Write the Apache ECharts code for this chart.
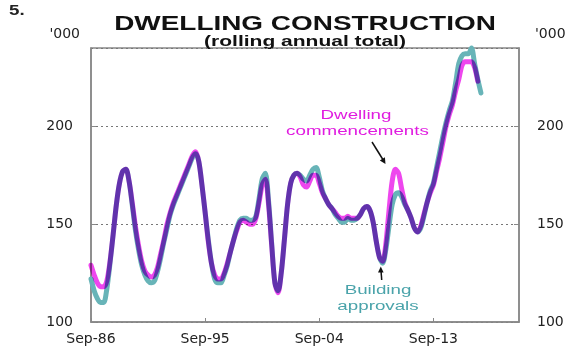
<!DOCTYPE html>
<html>
<head>
<meta charset="utf-8">
<script src="https://cdn.jsdelivr.net/npm/echarts@6/dist/echarts.min.js"></script>
<style>html,body{margin:0;padding:0;background:#fff}#c{width:580px;height:352px}</style>
</head>
<body>
<div id="c"></div>
<script>
// Quarterly data, index 0 = Sep-86
const xTickLabels = ['Sep-86', 'Sep-95', 'Sep-04', 'Sep-13'];
const yTickValues = [100, 150, 200];
const commencements = [
  129,124,120,118,118,121,131,145,160,171,
  177,178,172,161,149,139,131,126,124,123,
  124,128,135,142,150,156,161,165,169,173,
  177,181,185,187,182,170,156,141,130,124,
  122,122,125,130,136,142,147,151,152,151,
  150,150,153,161,170,173,160,139,120,115,
  125,142,160,171,175,176,174,170,169,172,
  175,175,171,166,163,160,158,156,154,153,
  153,154,153,153,153,155,158,159,157,151,
  141,133,131,140,157,172,178,176,168,161,
  157,153,148,146,149,155,161,166,170,177,
  184,192,200,206,211,218,224,231,233,233,
  233,230,223
];
const approvals = [
  122,116,112,110,110,117,130,145,160,171,
  177,178,172,160,147,137,129,124,121,120,
  121,126,133,141,148,155,160,164,168,172,
  176,180,184,186,182,170,156,142,130,122,
  120,120,124,129,136,142,148,152,153,153,
  152,152,154,163,173,176,162,140,120,116,
  125,142,160,171,175,176,175,173,172,175,
  178,179,174,167,163,160,158,155,153,151,
  151,153,152,152,153,155,158,159,157,151,
  141,133,130,137,149,160,165,166,164,160,
  157,153,148,146,148,154,161,167,171,179,
  187,195,202,208,213,222,232,236,237,237,
  240,232,224,217
];

const TEAL = '#68B4B8';
const MAGENTA = '#EE46EE';
const TICK_STEP = 36; // quarters between labelled ticks

function lineSeries(name, values, color, blend) {
  return {
    name: name,
    type: 'line',
    data: values.map((v, i) => [i, v]),
    smooth: 0.3,
    showSymbol: false,
    symbol: 'none',
    clip: false,
    z: 3,
    blendMode: blend,
    lineStyle: { color: color, width: 5, cap: 'round', join: 'round' },
    itemStyle: { color: color }
  };
}

const labelFont = { fontFamily: 'DejaVu Sans', fontSize: 14, color: '#222' };
const yAxisBase = {
  type: 'value', min: 100, max: 240, interval: 50,
  axisLine: { show: true, lineStyle: { color: '#888', width: 1.5 } },
  axisTick: { show: true, inside: true, length: 5, lineStyle: { color: '#888' } },
  axisLabel: Object.assign({ margin: 18, showMaxLabel: false,
    formatter: v => (yTickValues.indexOf(v) >= 0 ? String(v) : '') }, labelFont),
  nameLocation: 'end',
  nameTextStyle: { fontFamily: 'DejaVu Sans', fontSize: 14, color: '#222' }
};

const chart = echarts.init(document.getElementById('c'), null, { renderer: 'canvas' });
chart.setOption({
  backgroundColor: '#ffffff',
  animation: false,
  grid: { left: 91, right: 61, top: 48, bottom: 30, show: true, borderColor: '#888', borderWidth: 1.5 },
  xAxis: {
    type: 'value', min: 0, max: 135, interval: TICK_STEP,
    axisLine: { show: true, lineStyle: { color: '#888', width: 1.5 } },
    axisTick: { show: true, inside: true, length: 4, lineStyle: { color: '#888' } },
    splitLine: { show: false },
    axisLabel: Object.assign({ margin: 10, showMaxLabel: false,
      formatter: v => (v % TICK_STEP === 0 && xTickLabels[v / TICK_STEP]) || '' }, labelFont)
  },
  yAxis: [
    Object.assign({}, yAxisBase, {
      position: 'left', name: "'000", nameGap: 7,
      nameTextStyle: Object.assign({}, yAxisBase.nameTextStyle, { align: 'right', padding: [0, 11, 0, 0] }),
      splitLine: { show: true, lineStyle: { color: '#777', type: [2, 3], width: 1 } }
    }),
    Object.assign({}, yAxisBase, {
      position: 'right', name: "'000", nameGap: 7,
      nameTextStyle: Object.assign({}, yAxisBase.nameTextStyle, { align: 'left', padding: [0, 0, 0, 16] }),
      splitLine: { show: false }
    })
  ],
  graphic: [
    { type: 'text', x: 9, y: 11, scaleX: 1.25,
      style: { text: '5.', font: 'bold 15px "Liberation Sans", Arial', fill: '#222', textAlign: 'left', textVerticalAlign: 'middle' } },
    { type: 'text', x: 305, y: 24.5, scaleX: 1.33,
      style: { text: 'DWELLING CONSTRUCTION', font: 'bold 21px "Liberation Sans", Arial', fill: '#111', textAlign: 'center', textVerticalAlign: 'middle' } },
    { type: 'text', x: 305, y: 41.5, scaleX: 1.4,
      style: { text: '(rolling annual total)', font: 'bold 15px "Liberation Sans", Arial', fill: '#111', textAlign: 'center', textVerticalAlign: 'middle' } },
    { type: 'rect', z: 1, shape: { x: 268, y: 110, width: 179, height: 30 }, style: { fill: '#fff' } },
    { type: 'text', z: 5, x: 356, y: 116, scaleX: 1.5,
      style: { text: 'Dwelling', font: '12.5px "Liberation Sans", Arial', fill: '#E01CE0', textAlign: 'center', textVerticalAlign: 'middle' } },
    { type: 'text', z: 5, x: 357.5, y: 131.5, scaleX: 1.5,
      style: { text: 'commencements', font: '12.5px "Liberation Sans", Arial', fill: '#E01CE0', textAlign: 'center', textVerticalAlign: 'middle' } },
    { type: 'line', z: 5, shape: { x1: 372, y1: 142, x2: 383.5, y2: 160.5 }, style: { stroke: '#111', lineWidth: 1.5 } },
    { type: 'polygon', z: 5, shape: { points: [[385.5, 164], [379.8, 160.5], [384.9, 157.3]] }, style: { fill: '#111' } },
    { type: 'line', z: 5, shape: { x1: 381.7, y1: 280, x2: 381, y2: 270 }, style: { stroke: '#111', lineWidth: 1.5 } },
    { type: 'polygon', z: 5, shape: { points: [[380.8, 266.5], [378, 272.5], [383.6, 272.5]] }, style: { fill: '#111' } },
    { type: 'text', z: 5, x: 378, y: 291, scaleX: 1.5,
      style: { text: 'Building', font: '12.5px "Liberation Sans", Arial', fill: '#4AA3AA', textAlign: 'center', textVerticalAlign: 'middle' } },
    { type: 'text', z: 5, x: 378, y: 306.5, scaleX: 1.5,
      style: { text: 'approvals', font: '12.5px "Liberation Sans", Arial', fill: '#4AA3AA', textAlign: 'center', textVerticalAlign: 'middle' } }
  ],
  series: [
    lineSeries('Building approvals', approvals, TEAL, 'source-over'),
    lineSeries('Dwelling commencements', commencements, MAGENTA, 'multiply')
  ]
});
</script>
</body>
</html>
